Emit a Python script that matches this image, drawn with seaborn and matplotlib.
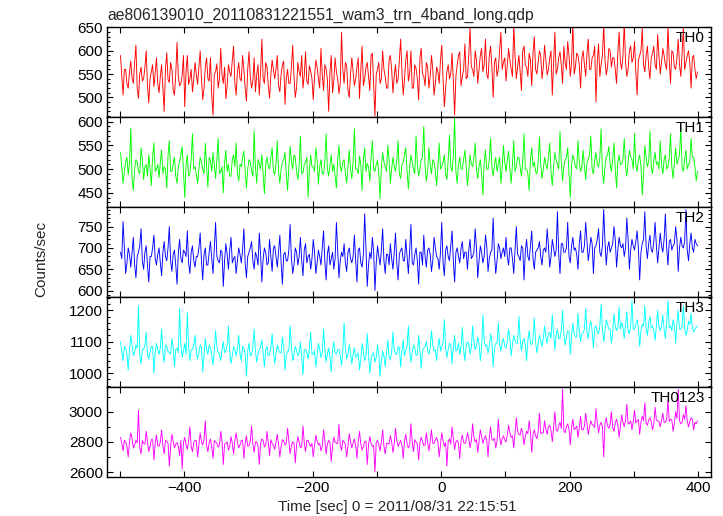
import numpy as np
import pandas as pd
import matplotlib
matplotlib.use("Agg")
import matplotlib.pyplot as plt
import seaborn as sns
from matplotlib.ticker import MultipleLocator

# ---- data ----
# "a" samples at t = -499, -495, ..., 397 ; "m" samples at t = -497, -493, ..., 399
t_start = -499
t_step = 4

th0_a = [
    590, 505, 560, 520, 578, 530, 612, 498, 565, 540, 600, 488, 555, 523, 585,
    510, 570, 470, 596, 532, 560, 505, 618, 525, 548, 480, 590, 540, 512, 575,
    528, 600, 495, 566, 540, 585, 462, 555, 520, 605, 530, 497, 570, 545, 610,
    505, 575, 535, 560, 492, 598, 520, 585, 548, 505, 625, 530, 565, 498, 580,
    540, 590, 512, 570, 485, 560, 530, 612, 500, 575, 545, 520, 598, 528, 556,
    495, 580, 540, 605, 515, 562, 470, 590, 535, 555, 508, 640, 530, 568, 500,
    585, 525, 565, 498, 610, 540, 575, 515, 595, 460, 560, 530, 600, 545, 520,
    590, 510, 570, 540, 625, 505, 580, 535, 600, 520, 562, 495, 605, 545, 575,
    520, 590, 505, 565, 530, 612, 480, 555, 540, 595, 462, 570, 598, 545, 615,
    545, 650, 560, 600, 530, 590, 555, 625, 540, 610, 500, 585, 560, 640, 575,
    535, 605, 560, 655, 540, 590, 515, 610, 565, 595, 525, 630, 550, 600, 540,
    612, 548, 585, 505, 640, 560, 598, 530, 575, 620, 545, 660, 565, 590, 520,
    600, 545, 625, 560, 590, 490, 615, 570, 655, 548, 605, 565, 585, 530, 640,
    560, 660, 545, 600, 575, 620, 505, 590, 648, 555, 610, 540, 595, 570, 635,
    550, 605, 570, 655, 530, 595, 560, 625, 545, 650, 575, 600, 520, 590, 540,
]
th0_m = [
    548, 560, 530, 555, 542, 575, 520, 550, 535, 565, 525, 540, 570, 552, 530,
    545, 520, 560, 538, 575, 515, 550, 545, 530, 590, 555, 528, 560, 540, 550,
    565, 540, 520, 585, 535, 505, 550, 572, 540, 548, 565, 525, 555, 580, 530,
    555, 540, 590, 520, 560, 545, 535, 512, 570, 555, 540, 575, 525, 548, 560,
    560, 525, 550, 578, 540, 530, 565, 545, 520, 555, 590, 548, 535, 568, 540,
    545, 565, 520, 550, 570, 538, 555, 510, 585, 540, 530, 560, 575, 515, 550,
    555, 540, 585, 560, 525, 565, 545, 590, 530, 550, 575, 540, 560, 520, 580,
    560, 545, 530, 580, 555, 540, 600, 550, 520, 570, 540, 585, 550, 525, 565,
    545, 560, 530, 555, 580, 540, 520, 570, 550, 535, 545, 590, 525, 560, 540,
    590, 565, 545, 580, 560, 605, 570, 550, 590, 565, 575, 545, 600, 560, 585,
    570, 580, 545, 590, 565, 555, 600, 570, 545, 580, 595, 560, 575, 590, 565,
    580, 560, 600, 575, 550, 585, 570, 610, 560, 590, 575, 550, 595, 570, 585,
    570, 595, 560, 585, 610, 575, 545, 590, 580, 565, 600, 585, 560, 595, 575,
    590, 575, 560, 610, 585, 555, 580, 600, 570, 590, 565, 585, 610, 560, 590,
    575, 590, 560, 580, 600, 565, 585, 570, 595, 560, 590, 575, 585, 560, 555,
]

th1_a = [
    535, 470, 515, 488, 587, 455, 520, 495, 545, 478, 510, 530, 465, 555, 500,
    482, 540, 505, 460, 560, 495, 525, 470, 515, 548, 440, 530, 490, 575, 505,
    470, 525, 500, 555, 462, 518, 535, 480, 565, 495, 450, 540, 510, 485, 530,
    555, 475, 505, 538, 460, 520, 495, 580, 470, 512, 530, 448, 525, 500, 545,
    488, 560, 470, 515, 535, 455, 548, 500, 525, 478, 570, 492, 515, 440, 530,
    505, 545, 468, 520, 490, 575, 485, 530, 510, 460, 550, 495, 520, 470, 540,
    480, 585, 500, 528, 455, 545, 512, 475, 560, 495, 518, 438, 535, 505, 550,
    470, 525, 495, 560, 480, 515, 545, 458, 530, 500, 570, 485, 520, 590, 475,
    545, 490, 515, 465, 555, 505, 530, 478, 572, 495, 608, 470, 525, 500, 540,
    465, 530, 505, 555, 480, 520, 445, 540, 500, 565, 485, 525, 510, 470, 550,
    495, 538, 470, 560, 505, 525, 485, 575, 500, 455, 545, 515, 490, 568, 480,
    525, 500, 555, 465, 535, 510, 580, 475, 520, 545, 440, 530, 505, 560, 495,
    540, 478, 520, 570, 490, 535, 505, 585, 470, 525, 548, 495, 555, 460, 530,
    510, 565, 485, 540, 520, 575, 495, 530, 445, 550, 505, 580, 490, 535, 515,
    560, 490, 530, 505, 575, 480, 545, 520, 590, 495, 540, 510, 565, 525, 475,
]
th1_m = [
    505, 495, 525, 510, 480, 500, 515, 490, 520, 505, 485, 500, 525, 495, 510,
    515, 490, 500, 530, 495, 510, 485, 505, 530, 495, 510, 485, 520, 500, 490,
    500, 515, 490, 505, 525, 495, 510, 520, 490, 505, 515, 495, 485, 520, 505,
    490, 510, 525, 495, 500, 515, 485, 505, 520, 500, 490, 510, 505, 525, 495,
    510, 495, 500, 520, 490, 505, 515, 530, 495, 505, 490, 510, 525, 500, 505,
    495, 520, 505, 490, 515, 500, 510, 495, 485, 520, 505, 515, 490, 505, 500,
    515, 500, 490, 510, 520, 495, 505, 525, 500, 510, 490, 505, 515, 495, 520,
    500, 505, 520, 490, 510, 530, 495, 505, 515, 490, 510, 500, 525, 505, 495,
    510, 520, 495, 505, 500, 515, 490, 520, 505, 530, 495, 510, 500, 520, 505,
    495, 510, 525, 500, 505, 490, 515, 500, 520, 505, 510, 495, 525, 500, 515,
    520, 500, 510, 495, 525, 505, 515, 500, 490, 520, 505, 495, 515, 510, 500,
    510, 525, 495, 505, 520, 500, 515, 505, 525, 490, 510, 520, 500, 515, 505,
    505, 515, 530, 500, 520, 510, 525, 495, 505, 530, 510, 520, 500, 515, 510,
    520, 505, 515, 525, 500, 510, 520, 505, 490, 525, 515, 505, 520, 510, 500,
    510, 520, 500, 525, 505, 515, 510, 530, 505, 520, 500, 515, 525, 505, 495,
]

th2_a = [
    690, 762, 640, 700, 655, 725, 630, 690, 745, 650, 705, 620, 680, 730, 660,
    700, 635, 715, 670, 750, 645, 695, 615, 720, 665, 690, 740, 640, 705, 655,
    680, 735, 625, 700, 660, 715, 640, 760, 670, 695, 610, 710, 650, 725, 675,
    640, 700, 665, 745, 630, 690, 715, 650, 680, 735, 620, 700, 660, 720, 645,
    705, 655, 730, 615, 690, 670, 755, 640, 700, 660, 725, 635, 710, 680, 650,
    720, 640, 695, 660, 740, 625, 705, 675, 650, 760, 630, 690, 710, 645, 700,
    665, 730, 620, 700, 655, 780, 610, 690, 725, 600, 705, 660, 745, 640, 685,
    710, 650, 735, 625, 695, 670, 720, 640, 755, 660, 700, 615, 690, 730, 655,
    700, 645, 725, 680, 650, 760, 635, 705, 670, 740, 620, 700, 665, 715, 690,
    650, 720, 680, 745, 630, 705, 665, 730, 645, 690, 770, 640, 710, 675, 700,
    725, 660, 700, 640, 750, 680, 705, 625, 720, 670, 740, 650, 695, 715, 660,
    700, 745, 655, 720, 680, 785, 640, 710, 690, 760, 665, 725, 700, 650, 740,
    690, 760, 670, 725, 640, 705, 745, 680, 790, 660, 715, 700, 750, 655, 725,
    700, 680, 770, 650, 720, 695, 740, 625, 710, 785, 675, 730, 690, 760, 665,
    735, 690, 780, 660, 720, 705, 750, 645, 725, 700, 790, 670, 735, 690, 710,
]
th2_m = [
    675, 700, 665, 685, 690, 660, 680, 705, 670, 690, 660, 680, 700, 675, 685,
    665, 690, 680, 700, 670, 685, 660, 690, 675, 695, 680, 665, 690, 670, 680,
    700, 670, 685, 660, 690, 675, 700, 680, 665, 690, 670, 685, 695, 665, 680,
    670, 685, 695, 665, 680, 700, 670, 690, 660, 685, 675, 690, 665, 680, 700,
    680, 690, 665, 685, 670, 695, 675, 660, 690, 680, 670, 695, 665, 685, 675,
    690, 665, 680, 700, 670, 685, 660, 690, 675, 695, 670, 680, 665, 690, 675,
    680, 670, 695, 665, 685, 700, 660, 675, 690, 665, 680, 695, 670, 685, 660,
    675, 690, 665, 685, 700, 670, 680, 695, 665, 685, 670, 690, 660, 680, 695,
    685, 670, 700, 675, 690, 665, 695, 680, 705, 670, 690, 680, 700, 675, 690,
    695, 675, 690, 700, 670, 690, 680, 705, 675, 695, 685, 670, 700, 690, 680,
    680, 700, 675, 695, 685, 670, 700, 690, 680, 705, 675, 690, 700, 680, 695,
    690, 705, 680, 700, 695, 685, 710, 690, 700, 680, 705, 695, 685, 710, 690,
    705, 715, 695, 710, 700, 720, 690, 705, 715, 700, 690, 710, 720, 695, 705,
    710, 700, 720, 695, 705, 715, 700, 690, 720, 705, 710, 695, 715, 705, 700,
    705, 720, 700, 715, 695, 710, 720, 700, 705, 715, 695, 710, 700, 720, 705,
]

th3_a = [
    1100, 1040, 1080, 1010, 1120, 1055, 1090, 1215, 1030, 1075, 1130, 1045, 1085, 1000, 1095,
    1060, 1140, 1035, 1085, 1065, 1110, 1020, 1080, 1205, 1050, 1095, 1195, 1040, 1075, 1120,
    1045, 1090, 1005, 1110, 1060, 1080, 1025, 1135, 1065, 1040, 1100, 1070, 1150, 1030, 1085,
    1055, 1120, 1040, 1080, 990, 1095, 1060, 1140, 1035, 1075, 1105, 1020, 1085, 1060, 1125,
    1030, 1090, 1065, 1115, 1010, 1070, 1150, 1040, 1085, 1055, 1100, 995, 1075, 1045, 1130,
    1060, 1020, 1095, 1050, 1140, 1035, 1080, 1005, 1100, 1060, 1075, 1025, 1160, 1045, 1090,
    1030, 1080, 1055, 1010, 1095, 1040, 1125, 1000, 1060, 1035, 1090, 990, 1070, 1020, 1105,
    1045, 1130, 1060, 1085, 1020, 1105, 1070, 1150, 1035, 1090, 1055, 1120, 1015, 1080, 1100,
    1060, 1135, 1070, 1040, 1110, 1085, 1170, 1050, 1095, 1030, 1120, 1075, 1060, 1145, 1040,
    1100, 1060, 1150, 1075, 1115, 1040, 1185, 1085, 1065, 1125, 1020, 1095, 1160, 1070, 1110,
    1080, 1140, 1055, 1120, 1095, 1180, 1070, 1110, 1040, 1135, 1090, 1175, 1065, 1120, 1085,
    1150, 1095, 1130, 1185, 1075, 1140, 1110, 1200, 1090, 1135, 1060, 1160, 1115, 1190, 1100,
    1130, 1205, 1110, 1165, 1080, 1150, 1125, 1220, 1100, 1170, 1140, 1095, 1190, 1135, 1210,
    1160, 1110, 1195, 1125, 1230, 1140, 1170, 1085, 1155, 1215, 1120, 1180, 1150, 1105, 1200,
    1135, 1185, 1110, 1230, 1150, 1170, 1095, 1200, 1140, 1215, 1120, 1165, 1190, 1130, 1145,
]
th3_m = [
    1070, 1085, 1060, 1075, 1090, 1065, 1080, 1055, 1075, 1090, 1060, 1070, 1085, 1065, 1075,
    1080, 1065, 1090, 1070, 1060, 1085, 1075, 1065, 1090, 1070, 1060, 1080, 1075, 1090, 1065,
    1065, 1080, 1055, 1075, 1090, 1060, 1070, 1085, 1060, 1075, 1065, 1090, 1070, 1055, 1075,
    1075, 1060, 1085, 1065, 1070, 1055, 1080, 1070, 1060, 1085, 1065, 1075, 1055, 1080, 1070,
    1060, 1075, 1065, 1080, 1055, 1070, 1085, 1060, 1075, 1065, 1050, 1075, 1065, 1080, 1060,
    1070, 1055, 1075, 1065, 1080, 1060, 1050, 1070, 1065, 1075, 1055, 1070, 1080, 1060, 1065,
    1060, 1050, 1065, 1045, 1070, 1055, 1060, 1045, 1065, 1050, 1060, 1040, 1055, 1065, 1050,
    1065, 1075, 1060, 1080, 1070, 1055, 1085, 1070, 1065, 1080, 1060, 1075, 1070, 1085, 1075,
    1080, 1090, 1075, 1085, 1070, 1095, 1080, 1075, 1090, 1080, 1070, 1095, 1085, 1075, 1090,
    1095, 1080, 1100, 1085, 1095, 1080, 1105, 1090, 1085, 1100, 1080, 1095, 1090, 1100, 1085,
    1100, 1110, 1090, 1105, 1095, 1110, 1100, 1090, 1105, 1095, 1110, 1100, 1090, 1105, 1110,
    1115, 1125, 1110, 1130, 1120, 1110, 1135, 1120, 1115, 1130, 1120, 1125, 1115, 1135, 1125,
    1140, 1130, 1150, 1135, 1145, 1130, 1150, 1140, 1135, 1155, 1140, 1130, 1150, 1145, 1140,
    1145, 1155, 1135, 1150, 1140, 1155, 1145, 1135, 1150, 1140, 1160, 1145, 1135, 1150, 1145,
    1150, 1140, 1155, 1145, 1135, 1150, 1160, 1140, 1150, 1145, 1135, 1155, 1145, 1140, 1150,
]

th0123_a = [
    2830, 2740, 2800, 2700, 2860, 2760, 2810, 3010, 2720, 2790, 2870, 2735, 2815, 2680, 2845,
    2770, 2880, 2720, 2805, 2640, 2850, 2760, 2795, 2710, 2620, 2830, 2750, 2900, 2735, 2810,
    2700, 2860, 2780, 2940, 2735, 2820, 2690, 2800, 2765, 2870, 2650, 2790, 2745, 2835, 2720,
    2860, 2760, 2810, 2690, 2840, 2775, 2905, 2730, 2800, 2650, 2820, 2765, 2870, 2710, 2790,
    2750, 2850, 2700, 2815, 2780, 2890, 2720, 2800, 2660, 2835, 2760, 2905, 2735, 2810, 2770,
    2700, 2845, 2780, 2740, 2880, 2720, 2810, 2670, 2830, 2790, 2915, 2745, 2800, 2700, 2855,
    2760, 2820, 2690, 2870, 2745, 2800, 2650, 2835, 2770, 2600, 2810, 2740, 2880, 2720, 2790,
    2840, 2730, 2890, 2770, 2810, 2690, 2850, 2760, 2920, 2735, 2800, 2680, 2830, 2775, 2860,
    2740, 2880, 2790, 2830, 2700, 2860, 2770, 2640, 2820, 2900, 2750, 2810, 2690, 2845, 2790,
    2860, 2760, 2920, 2800, 2730, 2880, 2790, 2840, 2700, 2900, 2810, 2760, 2950, 2780, 2840,
    2800, 2910, 2830, 2760, 2960, 2850, 2890, 2780, 2870, 2940, 2730, 2880, 2820, 2990, 2860,
    2940, 2850, 2910, 2800, 3000, 2870, 2930, 3150, 2860, 2920, 2780, 2950, 2890, 2830, 2970,
    2880, 2990, 2850, 2940, 2910, 3020, 2860, 2930, 2700, 2960, 2890, 3000, 2870, 2950, 2830,
    2980, 2900, 3050, 2920, 2880, 3010, 2940, 2850, 2970, 3060, 2910, 2960, 2880, 3030, 2940,
    2900, 2990, 2930, 3080, 2950, 2870, 3000, 3150, 2920, 2980, 3040, 2900, 2960, 2880, 2920,
]
th0123_m = [
    2790, 2810, 2770, 2800, 2825, 2780, 2795, 2760, 2810, 2785, 2800, 2770, 2815, 2790, 2775,
    2800, 2775, 2810, 2790, 2765, 2805, 2785, 2770, 2810, 2795, 2780, 2805, 2770, 2795, 2810,
    2780, 2800, 2815, 2775, 2795, 2765, 2810, 2790, 2780, 2805, 2785, 2800, 2770, 2790, 2810,
    2795, 2780, 2810, 2790, 2770, 2805, 2785, 2800, 2770, 2790, 2810, 2780, 2795, 2815, 2775,
    2800, 2785, 2770, 2805, 2790, 2810, 2775, 2795, 2780, 2800, 2770, 2795, 2810, 2785, 2790,
    2780, 2805, 2790, 2770, 2810, 2785, 2795, 2775, 2800, 2790, 2780, 2810, 2785, 2770, 2800,
    2790, 2775, 2800, 2785, 2770, 2805, 2780, 2790, 2775, 2795, 2780, 2800, 2770, 2790, 2785,
    2800, 2785, 2810, 2790, 2775, 2805, 2790, 2780, 2800, 2815, 2785, 2795, 2805, 2780, 2795,
    2805, 2790, 2815, 2800, 2780, 2810, 2795, 2805, 2785, 2820, 2800, 2790, 2810, 2795, 2805,
    2825, 2810, 2830, 2815, 2805, 2835, 2820, 2810, 2830, 2815, 2825, 2805, 2835, 2820, 2815,
    2845, 2860, 2840, 2855, 2870, 2845, 2860, 2835, 2855, 2865, 2850, 2840, 2870, 2855, 2860,
    2885, 2900, 2875, 2895, 2880, 2905, 2890, 2875, 2900, 2885, 2895, 2880, 2905, 2890, 2880,
    2905, 2920, 2900, 2915, 2895, 2925, 2910, 2900, 2920, 2905, 2915, 2895, 2925, 2910, 2905,
    2930, 2945, 2920, 2940, 2935, 2925, 2950, 2930, 2940, 2925, 2945, 2935, 2920, 2945, 2935,
    2940, 2930, 2950, 2935, 2945, 2925, 2955, 2940, 2930, 2950, 2940, 2935, 2950, 2930, 2940,
]

band_names = ["TH0", "TH1", "TH2", "TH3", "TH0123"]
band_a = [th0_a, th1_a, th2_a, th3_a, th0123_a]
band_m = [th0_m, th1_m, th2_m, th3_m, th0123_m]
band_colors = ["#ff0000", "#00ff00", "#0000ff", "#00ffff", "#ff00ff"]
band_ylims = [(458, 651), (420, 610), (585, 796), (956, 1242), (2567, 3164)]
band_major = [50, 50, 50, 100, 200]
band_minor = [10, 10, 10, 20, 100]

title = "ae806139010_20110831221551_wam3_trn_4band_long.qdp"
xlabel = "Time [sec] 0 = 2011/08/31 22:15:51"
ylabel = "Counts/sec"

# ---- plotting ----
sns.set_theme(style="ticks")
plt.rcParams['font.family'] = ['Liberation Sans', 'DejaVu Sans']
plt.rcParams['font.size'] = 11

fig = plt.figure(figsize=(7.23, 5.16), dpi=100)
W, H = 723.0, 516.0
left_px, right_px, top_px, bottom_px = 107, 711, 27, 477
panel_h = (bottom_px - top_px) / len(band_names)

axes = []
for i, (name, va_, vm_, col, yl, mj, mn) in enumerate(zip(
        band_names, band_a, band_m, band_colors, band_ylims, band_major, band_minor)):
    y0 = top_px + (i + 1) * panel_h
    ax = fig.add_axes([left_px / W, 1 - y0 / H, (right_px - left_px) / W, panel_h / H])
    ta = t_start + t_step * np.arange(len(va_))
    tm = ta + t_step / 2
    df = pd.DataFrame({"time": np.concatenate([ta, tm]),
                       "rate": np.concatenate([va_, vm_])}).sort_values("time")
    sns.lineplot(data=df, x="time", y="rate", ax=ax, color=col,
                 linewidth=0.65, estimator=None, sort=False)
    ax.set_xlim(-520, 420)
    ax.set_ylim(*yl)
    ax.xaxis.set_major_locator(MultipleLocator(200))
    ax.xaxis.set_minor_locator(MultipleLocator(100))
    ax.yaxis.set_major_locator(MultipleLocator(mj))
    ax.yaxis.set_minor_locator(MultipleLocator(mn))
    ax.tick_params(which="both", direction="in", top=True, right=True,
                   width=0.8, colors="black", labelsize=11, pad=3)
    ax.tick_params(which="major", length=4)
    ax.tick_params(axis="y", which="minor", length=2)
    ax.tick_params(axis="x", which="minor", length=4)
    ax.set_xlabel("")
    ax.set_ylabel("")
    for s in ax.spines.values():
        s.set_linewidth(1.0)
        s.set_color("black")
    ax.text(0.99, 0.96, name, transform=ax.transAxes, ha="right", va="top",
            fontsize=11, color="black")
    if i < len(band_names) - 1:
        ax.tick_params(labelbottom=False)
    axes.append(ax)

fig.text(397 / W, 1 - 507 / H, xlabel, ha="center", va="center", fontsize=11)
fig.text(left_px / W, 1 - 20 / H, title, ha="left", va="baseline", fontsize=11.3)
fig.text(41 / W, 1 - 259 / H, ylabel, rotation=90, ha="center", va="center", fontsize=11)

fig.savefig("out.png", dpi=100)
